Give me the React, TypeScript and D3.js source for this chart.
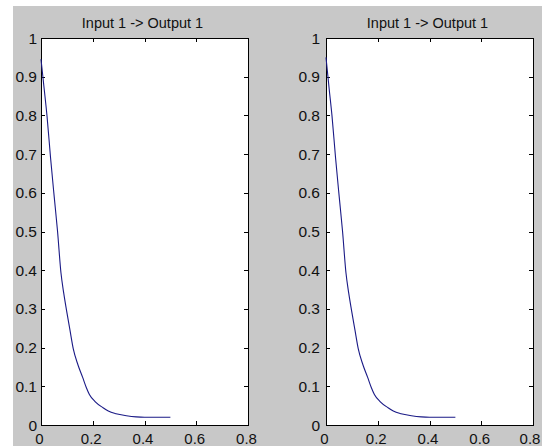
import { useEffect, useRef } from "react";
import * as d3 from "d3";

// step response samples (time, output)
const timeValues = [
  0, 0.012, 0.023, 0.037, 0.051, 0.064, 0.077, 0.088, 0.099, 0.112, 0.125,
  0.143, 0.161, 0.175, 0.187, 0.21, 0.239, 0.26, 0.29, 0.33, 0.368, 0.4,
  0.45, 0.5,
];
const responseLeft = [
  0.945, 0.87, 0.8, 0.69, 0.59, 0.5, 0.394, 0.34, 0.295, 0.245, 0.196, 0.155,
  0.123, 0.097, 0.079, 0.06, 0.045, 0.036, 0.029, 0.024, 0.021, 0.02, 0.02,
  0.02,
];
const responseRight = [
  0.95, 0.87, 0.8, 0.69, 0.59, 0.5, 0.394, 0.34, 0.295, 0.245, 0.196, 0.155,
  0.123, 0.097, 0.079, 0.06, 0.045, 0.036, 0.029, 0.024, 0.021, 0.02, 0.02,
  0.02,
];
const xTicks = [0, 0.2, 0.4, 0.6, 0.8];
const yTicks = [0, 0.1, 0.2, 0.3, 0.4, 0.5, 0.6, 0.7, 0.8, 0.9, 1];
const titles = ["Input 1 -> Output 1", "Input 1 -> Output 1"];

const WIDTH = 542;
const HEIGHT = 446;
const FONT = "'Liberation Sans', Arial, sans-serif";

function ResponsePlots() {
  const svgRef = useRef(null);

  useEffect(() => {
    const svgElement = svgRef.current;
    if (!svgElement) return;

    const svg = d3.select(svgElement);
    svg.selectAll("*").remove();

    // figure background
    svg.append("rect").attr("width", WIDTH).attr("height", HEIGHT).attr("fill", "#fff");
    svg
      .append("rect")
      .attr("x", 13)
      .attr("y", 6)
      .attr("width", WIDTH - 13)
      .attr("height", HEIGHT - 6)
      .attr("fill", "#c8c8c8");

    const panels = [
      { left: 41, right: 248, values: responseLeft, title: titles[0], labelGap: 4 },
      { left: 326, right: 533, values: responseRight, title: titles[1], labelGap: 6 },
    ];
    const top = 38;
    const bottom = 425;
    const tickLen = 4;

    panels.forEach((panel) => {
      const x = d3.scaleLinear().domain([0, 0.8]).range([panel.left, panel.right]);
      const y = d3.scaleLinear().domain([0, 1]).range([bottom, top]);

      const g = svg.append("g");

      g.append("rect")
        .attr("x", panel.left)
        .attr("y", top)
        .attr("width", panel.right - panel.left)
        .attr("height", bottom - top)
        .attr("fill", "#fff");

      // inward ticks on all four sides
      xTicks.forEach((t) => {
        const px = Math.round(x(t)) + 0.5;
        g.append("line")
          .attr("x1", px).attr("x2", px)
          .attr("y1", bottom).attr("y2", bottom - tickLen)
          .attr("stroke", "#000");
        g.append("line")
          .attr("x1", px).attr("x2", px)
          .attr("y1", top).attr("y2", top + tickLen)
          .attr("stroke", "#000");
        g.append("text")
          .attr("x", Math.min(x(t) - 1.5, WIDTH - 12))
          .attr("y", 444)
          .attr("text-anchor", "middle")
          .attr("font-family", FONT)
          .attr("font-size", 15)
          .attr("fill", "#111")
          .text(String(t));
      });

      yTicks.forEach((t) => {
        const py = Math.round(y(t)) + 0.5;
        g.append("line")
          .attr("x1", panel.left).attr("x2", panel.left + tickLen)
          .attr("y1", py).attr("y2", py)
          .attr("stroke", "#000");
        g.append("line")
          .attr("x1", panel.right).attr("x2", panel.right - tickLen)
          .attr("y1", py).attr("y2", py)
          .attr("stroke", "#000");
        g.append("text")
          .attr("x", panel.left - panel.labelGap)
          .attr("y", y(t))
          .attr("dy", "0.36em")
          .attr("text-anchor", "end")
          .attr("font-family", FONT)
          .attr("font-size", 15.5)
          .attr("fill", "#111")
          .text(String(t));
      });

      g.append("rect")
        .attr("x", panel.left + 0.5)
        .attr("y", top + 0.5)
        .attr("width", panel.right - panel.left)
        .attr("height", bottom - top)
        .attr("fill", "none")
        .attr("stroke", "#000");

      const line = d3
        .line()
        .curve(d3.curveMonotoneX)
        .x((d) => x(d[0]))
        .y((d) => y(d[1]));

      g.append("path")
        .datum(timeValues.map((t, i) => [t, panel.values[i]]))
        .attr("d", line)
        .attr("fill", "none")
        .attr("stroke", "#1a1a86")
        .attr("stroke-width", 1.1);

      g.append("text")
        .attr("x", (panel.left + panel.right) / 2 - 2)
        .attr("y", 28)
        .attr("text-anchor", "middle")
        .attr("font-family", FONT)
        .attr("font-size", 14.5)
        .attr("fill", "#111")
        .text(panel.title);
    });
  }, []);

  return (
    <svg
      ref={svgRef}
      width={WIDTH}
      height={HEIGHT}
      style={{ position: "absolute", left: 0, top: 0 }}
      role="img"
      aria-label="Step response plots"
    />
  );
}

export default function App() {
  return <ResponsePlots />;
}
